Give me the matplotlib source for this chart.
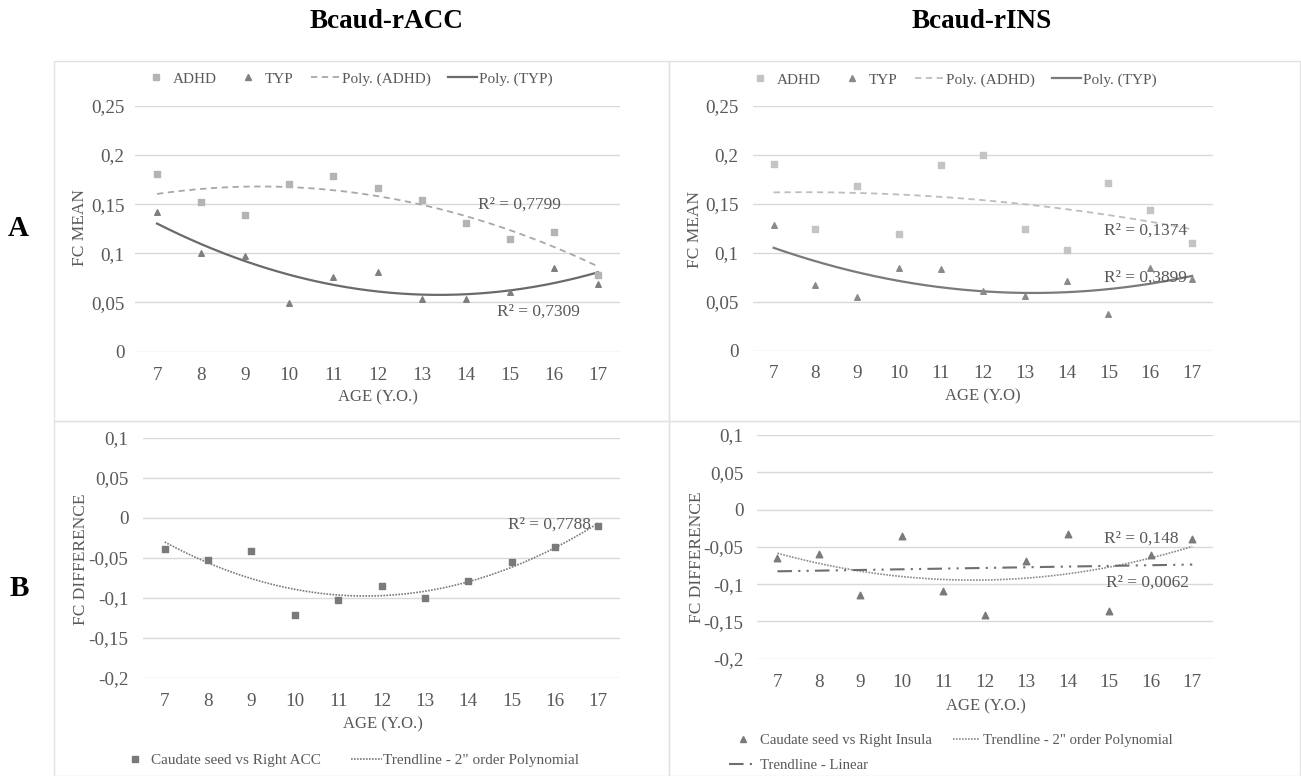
import numpy as np
import matplotlib
matplotlib.use("Agg")
import matplotlib.pyplot as plt
from matplotlib.lines import Line2D
from matplotlib.patches import Rectangle

plt.rcParams['font.family'] = ['Liberation Serif', 'DejaVu Serif']

ages = [7, 8, 9, 10, 11, 12, 13, 14, 15, 16, 17]
age_labels = [str(a) for a in ages]

acc_adhd = [0.181, 0.152, 0.139, 0.170, 0.179, 0.166, 0.154, 0.131, 0.115, 0.122, 0.078]
acc_typ = [0.142, 0.100, 0.097, 0.049, 0.076, 0.081, 0.054, 0.054, 0.061, 0.085, 0.069]
ins_adhd = [0.191, 0.124, 0.168, 0.119, 0.190, 0.200, 0.124, 0.103, 0.171, 0.144, 0.110]
ins_typ = [0.128, 0.067, 0.055, 0.085, 0.083, 0.061, 0.056, 0.071, 0.037, 0.084, 0.073]
acc_diff = [-0.039, -0.053, -0.042, -0.122, -0.103, -0.085, -0.100, -0.079, -0.055, -0.037, -0.010]
ins_diff = [-0.065, -0.059, -0.114, -0.035, -0.109, -0.141, -0.069, -0.033, -0.136, -0.061, -0.039]

mean_ticks = [0, 0.05, 0.1, 0.15, 0.2, 0.25]
mean_ticklabels = ["0", "0,05", "0,1", "0,15", "0,2", "0,25"]
diff_ticks = [-0.2, -0.15, -0.1, -0.05, 0, 0.05, 0.1]
diff_ticklabels = ["-0,2", "-0,15", "-0,1", "-0,05", "0", "0,05", "0,1"]

W, H = 1301, 776
fig = plt.figure(figsize=(W / 100, H / 100), dpi=100)
fig.patch.set_facecolor('white')

TXT = '#595959'
GRID = '#d9d9d9'
C_ADHD = '#b4b4b4'
C_ADHD_LINE = '#a8a8a8'
C_TYP = '#7f7f7f'
C_TYP_LINE = '#6a6a6a'
C_DIFF = '#7a7a7a'


def px_axes(x0, x1, ytop, ybot):
    return fig.add_axes([x0 / W, (H - ybot) / H, (x1 - x0) / W, (ybot - ytop) / H])


def ftext(x, y, s, **kw):
    return fig.text(x / W, (H - y) / H, s, **kw)


# panel borders
for (x0, y0, x1, y1) in [(54, 61, 669, 421), (669, 61, 1300, 421),
                         (54, 421, 669, 776), (669, 421, 1300, 776)]:
    fig.patches.append(Rectangle((x0 / W, (H - y1) / H), (x1 - x0) / W, (y1 - y0) / H,
                                 transform=fig.transFigure, fill=False,
                                 edgecolor='#e2e2e2', lw=1.0, zorder=0))


def style_axes(ax, ticks, ticklabels, ylim, pad_y, pad_x):
    ax.set_xlim(6.5, 17.5)
    ax.set_ylim(*ylim)
    ax.set_yticks(ticks)
    ax.set_yticklabels(ticklabels)
    ax.set_xticks(ages)
    ax.set_xticklabels(age_labels)
    for s in ax.spines.values():
        s.set_visible(False)
    ax.tick_params(axis='both', length=0, labelsize=13.8, colors=TXT)
    ax.tick_params(axis='y', pad=pad_y)
    ax.tick_params(axis='x', pad=pad_x)
    for t in ticks:
        ax.axhline(t, color=GRID, lw=1.0, zorder=0)
    ax.set_facecolor('none')


xs = np.linspace(7, 17, 200)


def trend(x, y, deg):
    c = np.polyfit(x, y, deg)
    return np.polyval(c, xs)


RFS = 12.5
LABFS = 12.5

# ---------- Top-left ----------
ax1 = px_axes(135, 620, 105.7, 351.7)
style_axes(ax1, mean_ticks, mean_ticklabels, (0, 0.25), 7.5, 11)
ax1.scatter(ages, acc_adhd, marker='s', s=22, color=C_ADHD, zorder=3)
ax1.scatter(ages, acc_typ, marker='^', s=16, color=C_TYP, zorder=3)
ax1.plot(xs, trend(ages, acc_adhd, 2), color=C_ADHD_LINE, lw=1.3, ls=(0, (3.5, 2.5)), zorder=2)
ax1.plot(xs, trend(ages, acc_typ, 2), color=C_TYP_LINE, lw=1.6, zorder=2)
ax1.text(14.27, 0.1498, "R² = 0,7799", fontsize=RFS, color=TXT, va='center', ha='left')
ax1.text(14.72, 0.0407, "R² = 0,7309", fontsize=RFS, color=TXT, va='center', ha='left')
ftext(80, 228, "FC MEAN", fontsize=LABFS, color=TXT, rotation=90, ha='center', va='center')
ftext(378, 397, "AGE (Y.O.)", fontsize=12, color=TXT, ha='center', va='center')

# ---------- Top-right ----------
ax2 = px_axes(752.7, 1213, 106, 350.7)
style_axes(ax2, mean_ticks, mean_ticklabels, (0, 0.25), 10.3, 10.5)
ax2.scatter(ages, ins_adhd, marker='s', s=22, color='#c4c4c4', zorder=3)
ax2.scatter(ages, ins_typ, marker='^', s=16, color='#8a8a8a', zorder=3)
ax2.plot(xs, trend(ages, ins_adhd, 2), color='#bdbdbd', lw=1.3, ls=(0, (3.5, 2.5)), zorder=2)
ax2.plot(xs, trend(ages, ins_typ, 2), color='#7a7a7a', lw=1.6, zorder=2)
ax2.text(14.9, 0.1226, "R² = 0,1374", fontsize=RFS, color=TXT, va='center', ha='left')
ax2.text(14.9, 0.075, "R² = 0,3899", fontsize=RFS, color=TXT, va='center', ha='left')
ftext(695, 229, "FC MEAN", fontsize=LABFS, color=TXT, rotation=90, ha='center', va='center')
ftext(983, 396, "AGE (Y.O)", fontsize=12, color=TXT, ha='center', va='center')

# ---------- Bottom-left ----------
ax3 = px_axes(143, 620, 437.7, 677.7)
style_axes(ax3, diff_ticks, diff_ticklabels, (-0.2, 0.1), 10.5, 11)
ax3.scatter(ages, acc_diff, marker='s', s=22, color=C_DIFF, zorder=3)
ax3.plot(xs, trend(ages, acc_diff, 2), color='#7a7a7a', lw=1.2, ls=(0, (1, 0.8)), zorder=2)
ax3.text(14.92, -0.0083, "R² = 0,7788", fontsize=RFS, color=TXT, va='center', ha='left')
ftext(81, 559, "FC DIFFERENCE", fontsize=LABFS, color=TXT, rotation=90, ha='center', va='center')
ftext(383, 724, "AGE (Y.O.)", fontsize=12, color=TXT, ha='center', va='center')

# ---------- Bottom-right ----------
ax4 = px_axes(756.7, 1213, 435, 658.7)
style_axes(ax4, diff_ticks, diff_ticklabels, (-0.2, 0.1), 9.6, 11)
ax4.scatter(ages, ins_diff, marker='^', s=22, color=C_DIFF, zorder=3)
ax4.plot(xs, trend(ages, ins_diff, 2), color='#8a8a8a', lw=1.2, ls=(0, (1, 0.8)), zorder=2)
ax4.plot(xs, trend(ages, ins_diff, 1), color='#6e6e6e', lw=1.5,
         ls=(0, (7, 3, 1, 3, 1, 3)), zorder=2)
ax4.text(14.87, -0.0385, "R² = 0,148", fontsize=RFS, color=TXT, va='center', ha='left')
ax4.text(14.93, -0.0975, "R² = 0,0062", fontsize=RFS, color=TXT, va='center', ha='left')
ftext(697, 557, "FC DIFFERENCE", fontsize=LABFS, color=TXT, rotation=90, ha='center', va='center')
ftext(986, 706, "AGE (Y.O.)", fontsize=12, color=TXT, ha='center', va='center')


# ---------- Legends ----------
def fig_leg(handles, labels, cx, cy, ncol, fs=11, **kw):
    return fig.legend(handles, labels, loc='center', bbox_to_anchor=(cx / W, (H - cy) / H),
                      ncol=ncol, frameon=False, fontsize=fs, labelcolor=TXT,
                      borderpad=0, **kw)


labs_top = ["ADHD", "TYP", "Poly. (ADHD)", "Poly. (TYP)"]
h_top1 = [Line2D([], [], marker='s', ls='none', color=C_ADHD, ms=4.5),
          Line2D([], [], marker='^', ls='none', color=C_TYP, ms=4),
          Line2D([], [], color=C_ADHD_LINE, lw=1.3, ls=(0, (3.5, 2.5))),
          Line2D([], [], color=C_TYP_LINE, lw=1.6)]
fig_leg(h_top1, labs_top, 347, 79, 4, handlelength=1.9, handletextpad=0.15,
        columnspacing=1.1)

h_top2 = [Line2D([], [], marker='s', ls='none', color='#c4c4c4', ms=4.5),
          Line2D([], [], marker='^', ls='none', color='#8a8a8a', ms=4),
          Line2D([], [], color='#bdbdbd', lw=1.3, ls=(0, (3.5, 2.5))),
          Line2D([], [], color='#7a7a7a', lw=1.6)]
fig_leg(h_top2, labs_top, 951, 80, 4, handlelength=1.9, handletextpad=0.15,
        columnspacing=1.1)

h_b1 = [Line2D([], [], marker='s', ls='none', color=C_DIFF, ms=4.5),
        Line2D([], [], color='#7a7a7a', lw=1.2, ls=(0, (1, 0.8)))]
fig_leg(h_b1, ["Caudate seed vs Right ACC", 'Trendline - 2" order Polynomial'],
        349, 760, 2, handlelength=2.0, handletextpad=0.05, columnspacing=2.0)

h_b2 = [Line2D([], [], marker='^', ls='none', color=C_DIFF, ms=4.5),
        Line2D([], [], color='#6e6e6e', lw=1.5, ls=(0, (7, 3, 1, 3, 1, 3))),
        Line2D([], [], color='#8a8a8a', lw=1.2, ls=(0, (1, 0.8)))]
fig_leg(h_b2, ["Caudate seed vs Right Insula", "Trendline - Linear",
               'Trendline - 2" order Polynomial'],
        951, 753, 2, fs=10.6, handlelength=1.8, handletextpad=0.25, columnspacing=1.45,
        labelspacing=0.78)

# ---------- Titles and panel letters ----------
ftext(386.7, 22, "Bcaud-rACC", fontsize=19.5, fontweight='bold',
      ha='center', va='center', color='black')
ftext(982, 22, "Bcaud-rINS", fontsize=19.5, fontweight='bold',
      ha='center', va='center', color='black')
ftext(18, 228, "A", fontsize=21, fontweight='bold', ha='center', va='center', color='black')
ftext(19, 588, "B", fontsize=21, fontweight='bold', ha='center', va='center', color='black')

fig.savefig("out.png", dpi=100)
